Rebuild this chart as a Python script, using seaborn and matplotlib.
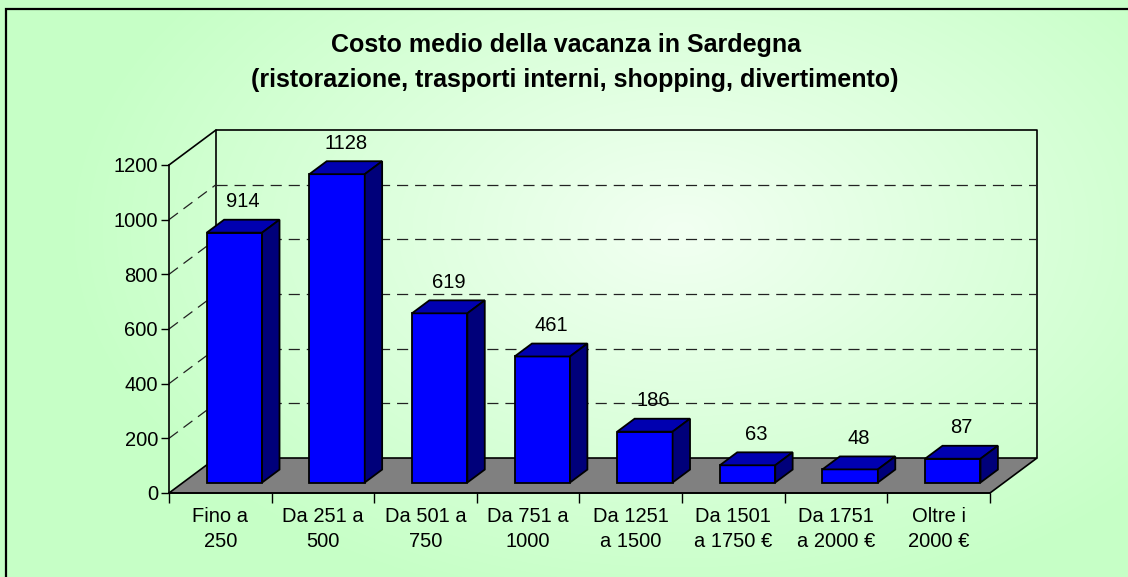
import numpy as np
import matplotlib
matplotlib.use("Agg")
import matplotlib.pyplot as plt
from matplotlib.patches import Polygon, Rectangle
import seaborn as sns

# data
categories = ["Fino a\n250", "Da 251 a\n500", "Da 501 a\n750", "Da 751 a\n1000",
              "Da 1251\na 1500", "Da 1501\na 1750 €", "Da 1751\na 2000 €", "Oltre i\n2000 €"]
values = [914, 1128, 619, 461, 186, 63, 48, 87]
yticks = [0, 200, 400, 600, 800, 1000, 1200]
title1 = "Costo medio della vacanza in Sardegna"
title2 = "(ristorazione, trasporti interni, shopping, divertimento)"

sns.set_style("white")
plt.rcParams['font.family'] = ['Liberation Sans', 'DejaVu Sans']
plt.rcParams['text.color'] = 'black'
plt.rcParams['xtick.color'] = 'black'
plt.rcParams['ytick.color'] = 'black'
plt.rcParams['lines.scale_dashes'] = False

W, H = 1128, 577
fig = plt.figure(figsize=(W / 100, H / 100), dpi=100)

# light green background, whiter in the middle
bg = fig.add_axes([0, 0, 1, 1], zorder=-10)
yy, xx = np.mgrid[0:H, 0:W]
r = np.sqrt(((xx - 680) / 620.0) ** 2 + ((yy - 230) / 390.0) ** 2).clip(0, 1)
c_in = np.array([242, 255, 242]) / 255
c_out = np.array([198, 255, 198]) / 255
img = c_in + (c_out - c_in) * r[..., None]
bg.imshow(img, aspect='auto', extent=[0, 1, 0, 1])
bg.axis('off')
fig.patches.append(Rectangle((6 / W, -0.1), 1.2, 1 - 9 / H + 0.1, transform=fig.transFigure,
                             fill=False, edgecolor='black', lw=1.6, zorder=5))

# 3d depth in data units
DX, DY = 0.458, 128
F0, BD = 0.30, 0.37
FS = 14.5

ax = fig.add_axes([169 / W, (H - 493) / H, 868 / W, 363 / H])
ax.set_facecolor('none')

sns.barplot(x=categories, y=values, color="#0000FF", saturation=1, width=0.54,
            edgecolor='black', linewidth=1.3, ax=ax, zorder=3)

# floor
ax.add_patch(Polygon([(-0.5, 0), (7.5, 0), (7.5 + DX, DY), (-0.5 + DX, DY)],
                     facecolor='#808080', edgecolor='black', lw=1.2, zorder=1, clip_on=False))

# back wall and side wall
bx0, bx1 = -0.5 + DX, 7.5 + DX
top = yticks[-1] + DY
ax.plot([bx0, bx0, bx1, bx1], [DY, top, top, DY], color='black', lw=1.2, zorder=1, clip_on=False)
ax.plot([-0.5, bx0], [yticks[-1], top], color='black', lw=1.2, zorder=1, clip_on=False)
for v in yticks[1:-1]:
    ax.plot([bx0, bx1], [v + DY, v + DY], color='#222222', lw=0.9,
            linestyle=(0, (8, 5)), zorder=1, clip_on=False)
    ax.plot([-0.5, bx0], [v, v + DY], color='#222222', lw=0.9,
            linestyle=(0, (8, 5)), zorder=1, clip_on=False)

# make bars 3d
for p, v in zip(ax.patches[:len(values)], values):
    p.set_x(p.get_x() + F0 * DX)
    p.set_y(F0 * DY)
    x0 = p.get_x()
    x1 = x0 + p.get_width()
    y0 = p.get_y()
    y1 = y0 + p.get_height()
    ddx, ddy = BD * DX, BD * DY
    ax.add_patch(Polygon([(x0, y1), (x1, y1), (x1 + ddx, y1 + ddy), (x0 + ddx, y1 + ddy)],
                         facecolor='#0000B0', edgecolor='black', lw=1.3, zorder=3))
    ax.add_patch(Polygon([(x1, y0), (x1 + ddx, y0 + ddy), (x1 + ddx, y1 + ddy), (x1, y1)],
                         facecolor='#00007A', edgecolor='black', lw=1.3, zorder=3))
    ax.annotate(str(v), xy=((x0 + x1) / 2 + ddx / 2, y1 + ddy), xytext=(0, 9),
                textcoords='offset points', ha='center', va='baseline', fontsize=FS)

ax.set_xlim(-0.5, 7.5 + DX)
ax.set_ylim(0, yticks[-1] + DY)

for s in ['top', 'right']:
    ax.spines[s].set_visible(False)
ax.spines['left'].set_bounds(0, yticks[-1])
ax.spines['bottom'].set_bounds(-0.5, 7.5)
ax.spines['left'].set_linewidth(1.2)
ax.spines['bottom'].set_linewidth(1.2)
ax.spines['left'].set_color('black')
ax.spines['bottom'].set_color('black')

ax.set_yticks(yticks)
ax.set_xticks(np.arange(-0.5, 8, 1), labels=[""] * 9)
ax.set_xticks(range(len(categories)), labels=categories, minor=True)
ax.tick_params(axis='y', left=True, length=6, width=1, pad=2, labelsize=FS)
ax.tick_params(axis='x', which='major', bottom=True, length=7, width=1)
ax.tick_params(axis='x', which='minor', bottom=True, length=0, pad=10, labelsize=FS)
for t in ax.get_xticklabels(minor=True):
    t.set_linespacing(1.4)
ax.set_xlabel("")
ax.set_ylabel("")

fig.text(566 / W, 1 - 45 / H, title1, ha='center', va='center', fontsize=18, fontweight='bold')
fig.text(575 / W, 1 - 80 / H, title2, ha='center', va='center', fontsize=18, fontweight='bold')

fig.savefig("out.png", dpi=100)
